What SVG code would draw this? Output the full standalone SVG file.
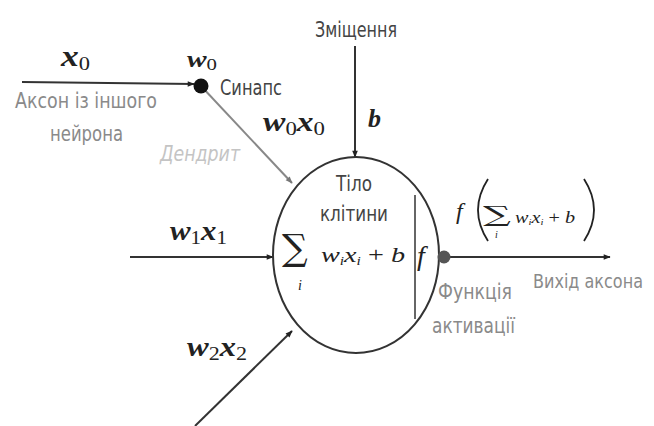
<svg xmlns="http://www.w3.org/2000/svg" width="654" height="426" viewBox="0 0 654 426">
<defs>
<marker id="ah" viewBox="0 0 10 10" refX="9" refY="5" markerWidth="8" markerHeight="7" markerUnits="userSpaceOnUse" orient="auto"><path d="M0,1 L10,5 L0,9 z" fill="#222"/></marker>
<marker id="ahg" viewBox="0 0 10 10" refX="9" refY="5" markerWidth="8" markerHeight="7" markerUnits="userSpaceOnUse" orient="auto"><path d="M0,1 L10,5 L0,9 z" fill="#777"/></marker>
<style>
.lbl{font-family:'DejaVu Sans Condensed','Liberation Sans Narrow',sans-serif;font-stretch:condensed;font-size:22px;fill:#8a8a8a}
.lbld{font-family:'DejaVu Sans Condensed','Liberation Sans Narrow',sans-serif;font-stretch:condensed;font-size:22px;fill:#444}
.m{font-family:'Liberation Serif',serif;font-style:italic;font-weight:bold;font-size:28px;fill:#222}
.sub{font-style:normal;font-weight:normal;font-size:19px}
.ms{font-family:'Liberation Serif',serif;font-style:italic;font-size:22px;fill:#222}
.line{stroke:#333;stroke-width:2;fill:none}
.sig{font-family:'DejaVu Serif',serif;fill:#222}
</style>
</defs>
<rect width="654" height="426" fill="#fff"/>
<g id="connectors">
<line class="line" x1="22" y1="82" x2="194" y2="84" marker-end="url(#ah)"/>
<line x1="201" y1="86" x2="292" y2="183" stroke="#888" stroke-width="2" marker-end="url(#ahg)"/>
<line class="line" x1="355" y1="46" x2="355" y2="157" marker-end="url(#ah)"/>
<line class="line" x1="130" y1="257" x2="273" y2="257" marker-end="url(#ah)"/>
<line class="line" x1="195" y1="426" x2="292" y2="331" marker-end="url(#ah)"/>
<line class="line" x1="444" y1="257" x2="610" y2="257" marker-end="url(#ah)"/>
</g>
<g id="synapse">
<circle cx="201" cy="86" r="7.5" fill="#111"/>
<text class="lbld" x="220" y="95" textLength="62" lengthAdjust="spacingAndGlyphs">Синапс</text>
</g>
<g id="input0">
<text class="m" x="61" y="66" style="font-size:30px" textLength="29" lengthAdjust="spacingAndGlyphs">x<tspan class="sub" dy="4">0</tspan></text>
<text class="m" x="187" y="67" style="font-size:24px" textLength="30" lengthAdjust="spacingAndGlyphs">w<tspan class="sub" dy="3" style="font-size:17px">0</tspan></text>
<text class="lbl" x="15" y="108" textLength="142" lengthAdjust="spacingAndGlyphs">Аксон із іншого</text>
<text class="lbl" x="50" y="141" textLength="73" lengthAdjust="spacingAndGlyphs">нейрона</text>
</g>
<g id="dendrite">
<text class="m" x="263" y="131" textLength="62" lengthAdjust="spacingAndGlyphs">w<tspan class="sub" dy="4">0</tspan><tspan dy="-4">x</tspan><tspan class="sub" dy="4">0</tspan></text>
<text class="lbl" x="160" y="161" style="fill:#c4c4c4;font-style:italic" textLength="80" lengthAdjust="spacingAndGlyphs">Дендрит</text>
</g>
<g id="bias">
<text class="lbld" x="315" y="37" textLength="82" lengthAdjust="spacingAndGlyphs">Зміщення</text>
<text class="m" x="368" y="127" style="font-size:26px">b</text>
</g>
<g id="input1">
<text class="m" x="170" y="240" textLength="57" lengthAdjust="spacingAndGlyphs">w<tspan class="sub" dy="4">1</tspan><tspan dy="-4">x</tspan><tspan class="sub" dy="4">1</tspan></text>
</g>
<g id="input2">
<text class="m" x="187" y="356" textLength="60" lengthAdjust="spacingAndGlyphs">w<tspan class="sub" dy="4">2</tspan><tspan dy="-4">x</tspan><tspan class="sub" dy="4">2</tspan></text>
</g>
<g id="cell-body">
<ellipse cx="356" cy="255" rx="83" ry="98" fill="none" stroke="#333" stroke-width="2"/>
<line x1="415" y1="195" x2="415" y2="319" stroke="#333" stroke-width="1.5"/>
<text class="lbld" x="336" y="191" textLength="36" lengthAdjust="spacingAndGlyphs">Тіло</text>
<text class="lbld" x="320" y="221" textLength="68" lengthAdjust="spacingAndGlyphs">клітини</text>
<text class="sig" x="282" y="260" style="font-size:36px">∑</text>
<text class="ms" x="298" y="290" style="font-size:14px">i</text>
<text class="ms" x="321" y="262" textLength="84" lengthAdjust="spacingAndGlyphs">w<tspan dy="3" style="font-size:12px">i</tspan><tspan dy="-3">x</tspan><tspan dy="3" style="font-size:12px">i</tspan><tspan dy="-3" style="font-style:normal"> + </tspan>b</text>
<text class="ms" x="417" y="265" style="font-size:28px">f</text>
</g>
<g id="activation">
<circle cx="444" cy="257" r="6.5" fill="#555"/>
<text class="lbl" x="438" y="299" textLength="74" lengthAdjust="spacingAndGlyphs">Функція</text>
<text class="lbl" x="432" y="333" textLength="83" lengthAdjust="spacingAndGlyphs">активації</text>
</g>
<g id="output">
<text class="ms" x="456" y="219" style="font-size:24px">f</text>
<path d="M488,179 Q468,210 488,241" fill="none" stroke="#222" stroke-width="1.8"/>
<text class="sig" transform="translate(483,222) scale(1.3,0.75)" x="0" y="0" style="font-size:30px">∑</text>
<text class="ms" x="495" y="238" style="font-size:10px">i</text>
<text class="ms" x="515" y="223" style="font-size:17px" textLength="60" lengthAdjust="spacingAndGlyphs">w<tspan dy="2" style="font-size:9px">i</tspan><tspan dy="-2">x</tspan><tspan dy="2" style="font-size:9px">i</tspan><tspan dy="-2" style="font-style:normal"> + </tspan>b</text>
<path d="M584,179 Q604,210 584,241" fill="none" stroke="#222" stroke-width="1.8"/>
<text class="lbl" x="533" y="288" style="font-size:19px" textLength="110" lengthAdjust="spacingAndGlyphs">Вихід аксона</text>
</g>
</svg>
